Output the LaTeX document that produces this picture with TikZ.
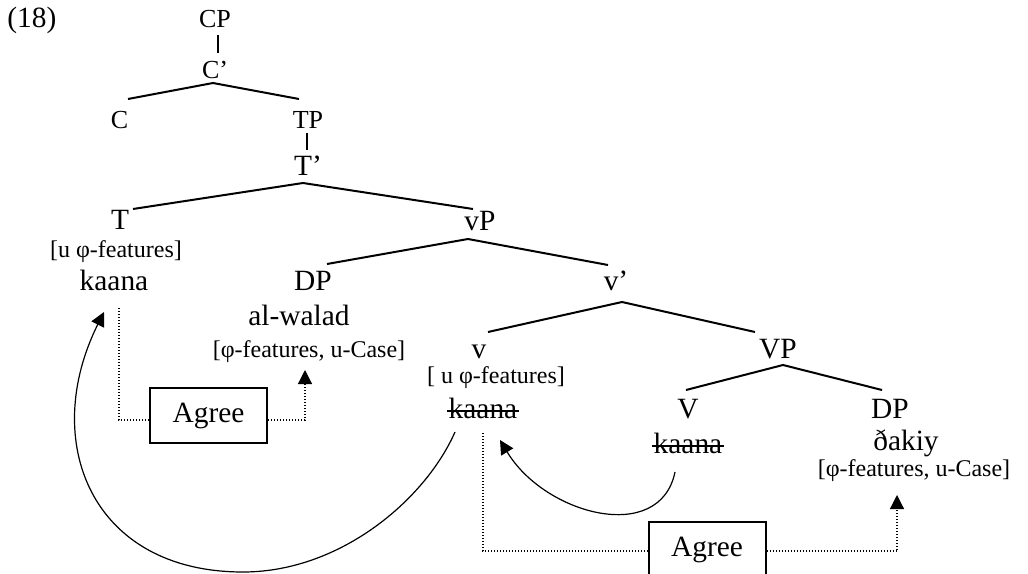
\documentclass[tikz,border=0pt]{standalone}
\usepackage{fontspec}
\setmainfont{Liberation Serif}
\usetikzlibrary{arrows.meta}
\begin{document}
\begin{tikzpicture}[x=0.5pt,y=-0.5pt,
  big/.style={anchor=base,inner sep=0pt,font=\fontsize{14.7}{17}\selectfont},
  top/.style={anchor=base,inner sep=0pt,font=\fontsize{13}{15}\selectfont},
  small/.style={anchor=base,inner sep=0pt,font=\fontsize{12}{14}\selectfont},
  branch/.style={line width=1pt},
  strike/.style={line width=0.9pt},
  dots/.style={line width=0.6pt,dash pattern=on 0.5pt off 1pt},
  agreebox/.style={draw,line width=1pt,minimum width=58.5pt,minimum height=27.5pt,inner sep=0pt,font=\fontsize{14.7}{17}\selectfont},
  move/.style={line width=0.6pt},
  tip/.style={-{Triangle[length=7pt,width=7pt]}}]
\useasboundingbox (0,0) rectangle (1028,573);
% labels
\node[big,anchor=base west] (ex) at (7,27) {(18)};
\node[top] (CP) at (215,27) {CP};
\node[top] (Cbar) at (215,78) {C’};
\node[top] (C) at (119.5,128) {C};
\node[top] (TP) at (308,128) {TP};
\node[big] (Tbar) at (308,175) {T’};
\node[big] (T) at (120,229) {T};
\node[small] (Tf) at (116,257.5) {[u φ-features]};
\node[big] (kT) at (114,290) {kaana};
\node[big] (vP) at (480,230) {vP};
\node[big] (DPa) at (313,290) {DP};
\node[big] (alw) at (299,325) {al-walad};
\node[small] (DPaf) at (309,357.5) {[φ-features, u-Case]};
\node[big] (vbar) at (616,290) {v’};
\node[big] (v) at (479,358) {v};
\node[small] (vf) at (496,383) {[ u φ-features]};
\node[big] (kv) at (483,418) {kaana};
\node[big] (VP) at (778,358) {VP};
\node[big] (V) at (688,418) {V};
\node[big] (kV) at (688,453) {kaana};
\node[big] (DPb) at (890,418) {DP};
\node[big] (dak) at (906,450) {ðakiy};
\node[small] (DPbf) at (914,476) {[φ-features, u-Case]};
\node[agreebox] (agA) at (208.5,415.5) {Agree};
\node[agreebox] (agB) at (707,549.5) {Agree};
% strike-through of the copies
\draw[strike] ([xshift=-0.5pt,yshift=3.4pt]kv.base west) -- ([xshift=0.5pt,yshift=3.4pt]kv.base east);
\draw[strike] ([xshift=-0.5pt,yshift=3.4pt]kV.base west) -- ([xshift=0.5pt,yshift=3.4pt]kV.base east);
% tree branches
\coordinate (cp1) at (218,35); \coordinate (cp2) at (218,53);
\coordinate (ca) at (213,83); \coordinate (cl) at (128,99); \coordinate (cr) at (299,99);
\coordinate (tp1) at (307,133); \coordinate (tp2) at (307,150);
\coordinate (ta) at (303,183); \coordinate (tl) at (133,209); \coordinate (tr) at (473,209);
\coordinate (vpa) at (468,239); \coordinate (vpl) at (327,264); \coordinate (vpr) at (608,265);
\coordinate (va) at (622,302); \coordinate (vl) at (488,332); \coordinate (vr) at (755,332);
\coordinate (VPa) at (783,365); \coordinate (VPl) at (686,390); \coordinate (VPr) at (882,390);
\draw[branch] (cp1) -- (cp2);
\draw[branch] (cl) -- (ca) -- (cr);
\draw[branch] (tp1) -- (tp2);
\draw[branch] (tl) -- (ta) -- (tr);
\draw[branch] (vpl) -- (vpa) -- (vpr);
\draw[branch] (vl) -- (va) -- (vr);
\draw[branch] (VPl) -- (VPa) -- (VPr);
% Agree dotted lines
\coordinate (a1) at (119,308); \coordinate (a2) at (119,420);
\coordinate (a3) at (305,420); \coordinate (a4) at (305,370);
\draw[dots] (a1) -- (a2) -- (a2 -| agA.west);
\draw[dots,tip] (a2 -| agA.east) -- (a3) -- (a4);
\coordinate (b1) at (483,433); \coordinate (b2) at (483,551);
\coordinate (b3) at (897,551); \coordinate (b4) at (897,495);
\draw[dots] (b1) -- (b2) -- (b2 -| agB.west);
\draw[dots,tip] (b2 -| agB.east) -- (b3) -- (b4);
% movement arrows
\coordinate (m1s) at (455,432); \coordinate (m1b) at (243,572); \coordinate (m1e) at (104,312);
\draw[move,tip] (m1s) .. controls (425,500) and (340,572) .. (m1b)
  .. controls (90,572) and (40,440) .. (m1e);
\coordinate (m2s) at (675,472); \coordinate (m2e) at (500,440);
\draw[move,tip] (m2s) .. controls (660,545) and (545,515) .. (m2e);
\end{tikzpicture}
\end{document}
